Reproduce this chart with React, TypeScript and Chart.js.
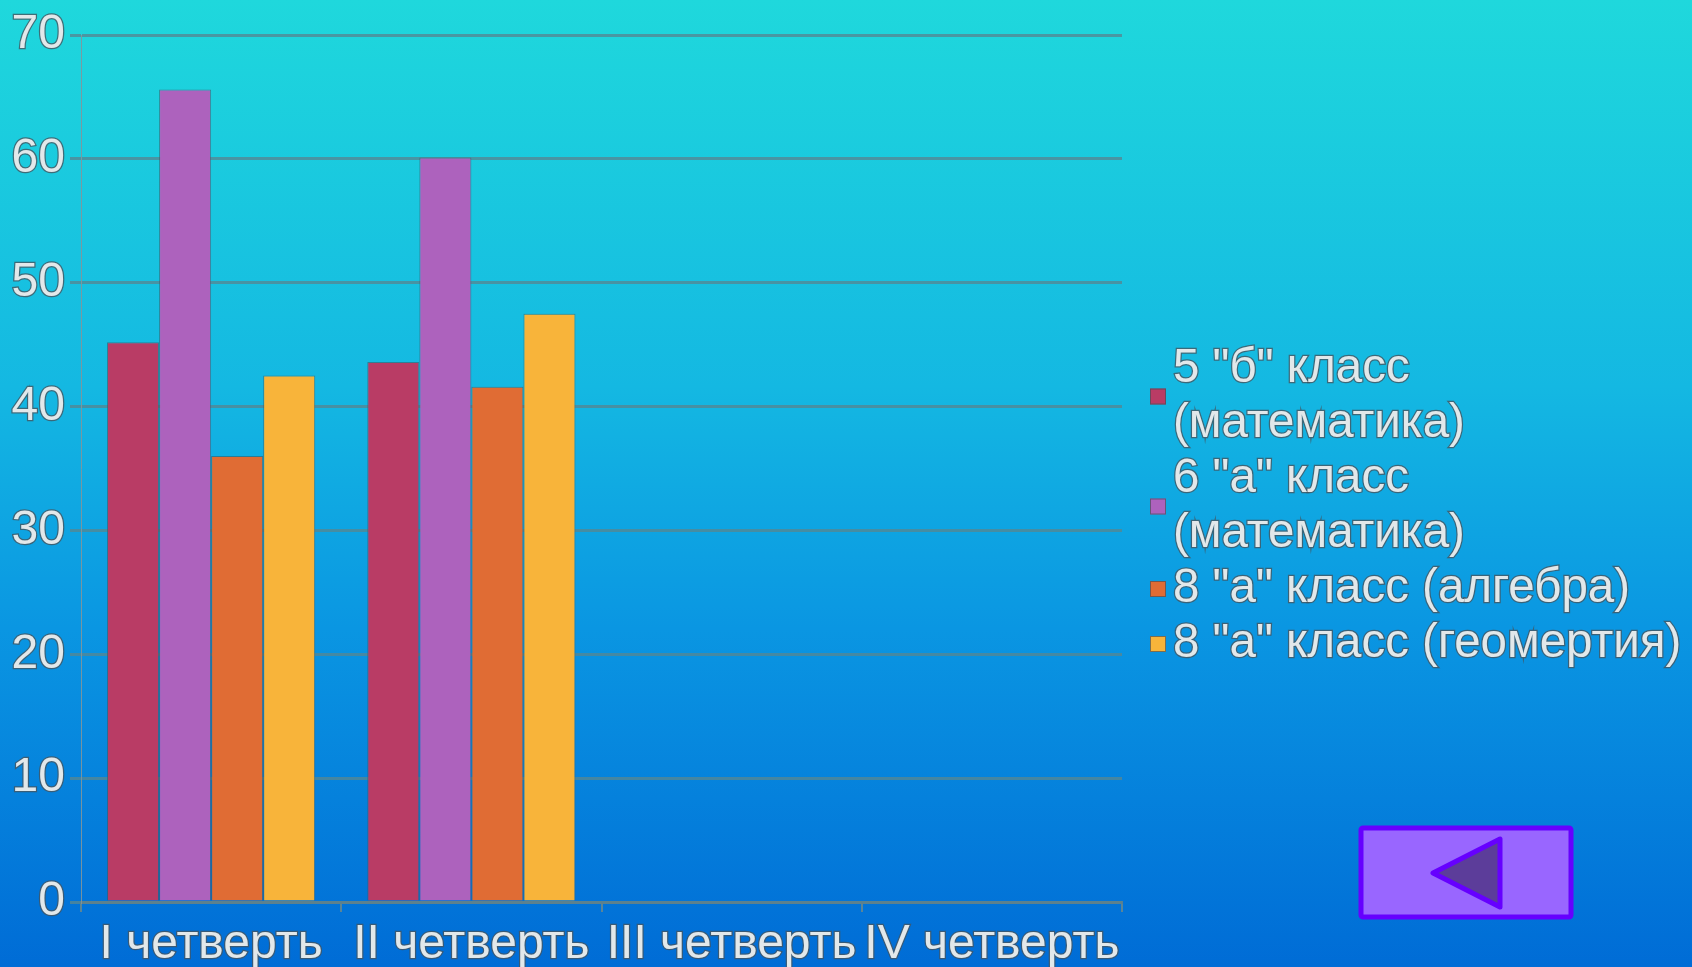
import React, { useEffect, useRef } from "react";
import { Chart, registerables } from "chart.js";

Chart.register(...registerables);

const CATEGORIES = ["I четверть", "II четверть", "III четверть", "IV четверть"];
const SERIES_NAMES = [
  '5 "б" класс (математика)',
  '6 "а" класс (математика)',
  '8 "а" класс (алгебра)',
  '8 "а" класс (геомертия)',
];
const LEGEND_LINES = [
  ['5 "б" класс', "(математика)"],
  ['6 "а" класс', "(математика)"],
  ['8 "а" класс (алгебра)'],
  ['8 "а" класс (геомертия)'],
];
const SERIES_5B_MATH = [45.2, 43.6, null, null];
const SERIES_6A_MATH = [65.6, 60.1, null, null];
const SERIES_8A_ALG = [36.0, 41.6, null, null];
const SERIES_8A_GEOM = [42.5, 47.5, null, null];
const SERIES_VALUES = [SERIES_5B_MATH, SERIES_6A_MATH, SERIES_8A_ALG, SERIES_8A_GEOM];
const SERIES_COLORS = ["#b93c65", "#ad62bd", "#e06c34", "#f8b43a"];
const Y_MIN = 0;
const Y_MAX = 70;
const Y_STEP = 10;

const FONT = '"Liberation Sans", Arial, sans-serif';
const TEXT_COLOR = "#e2e8ea";
const TEXT_STROKE = "rgba(70,85,95,0.8)";

const sideLegend = {
  id: "sideLegend",
  afterDraw(chart: any) {
    const ctx = chart.ctx as CanvasRenderingContext2D;
    const area = chart.chartArea;
    const markerX = area.right + 28;
    const textX = area.right + 51;
    const lh = 55;
    let y = area.top + 334;
    ctx.save();
    ctx.font = `47.5px ${FONT}`;
    ctx.textBaseline = "middle";
    ctx.textAlign = "left";
    LEGEND_LINES.forEach((lines, i) => {
      const centerY = y + ((lines.length - 1) * lh) / 2;
      ctx.fillStyle = SERIES_COLORS[i];
      ctx.fillRect(markerX, centerY - 8, 16, 16);
      ctx.strokeStyle = "rgba(70,80,90,0.7)";
      ctx.lineWidth = 1;
      ctx.strokeRect(markerX + 0.5, centerY - 7.5, 15, 15);
      lines.forEach((line, j) => {
        const ly = y + j * lh;
        ctx.lineWidth = 2.5;
        ctx.strokeStyle = TEXT_STROKE;
        ctx.strokeText(line, textX, ly);
        ctx.fillStyle = TEXT_COLOR;
        ctx.fillText(line, textX, ly);
      });
      y += lines.length * lh;
    });
    ctx.restore();
  },
};

export default function App() {
  const canvasRef = useRef<HTMLCanvasElement | null>(null);

  useEffect(() => {
    if (!canvasRef.current) return;
    const chart = new Chart(canvasRef.current, {
      type: "bar",
      data: {
        labels: CATEGORIES,
        datasets: SERIES_VALUES.map((vals, i) => ({
          label: SERIES_NAMES[i],
          data: vals,
          backgroundColor: SERIES_COLORS[i],
          borderColor: "rgba(60,90,100,0.6)",
          borderWidth: 1,
          categoryPercentage: 0.8,
          barPercentage: 1.0,
        })),
      },
      options: {
        animation: false,
        responsive: true,
        maintainAspectRatio: false,
        layout: { padding: { top: 35, right: 570, left: 0, bottom: 0 } },
        plugins: {
          legend: { display: false },
          tooltip: { enabled: false },
        },
        scales: {
          x: {
            grid: {
              display: true,
              drawOnChartArea: false,
              drawTicks: true,
              tickLength: 10,
              color: "rgba(100,135,145,0.9)",
              lineWidth: 2,
              offset: true,
            },
            border: { display: true, color: "rgba(95,130,140,0.9)", width: 3 },
            ticks: {
              color: TEXT_COLOR,
              font: { family: FONT, size: 48 },
              padding: 4,
              maxRotation: 0,
              minRotation: 0,
              autoSkip: false,
              textStrokeColor: TEXT_STROKE,
              textStrokeWidth: 2.5,
            } as any,
            afterFit: (scale: any) => {
              scale.height = 65;
            },
          },
          y: {
            min: Y_MIN,
            max: Y_MAX,
            ticks: {
              stepSize: Y_STEP,
              color: TEXT_COLOR,
              font: { family: FONT, size: 48 },
              padding: 5,
              textStrokeColor: TEXT_STROKE,
              textStrokeWidth: 2.5,
            } as any,
            grid: {
              color: "rgba(85,135,148,0.8)",
              lineWidth: 3,
              tickLength: 11,
            },
            border: { display: true, color: "rgba(130,150,155,0.9)", width: 1 },
            afterFit: (scale: any) => {
              scale.width = 81;
            },
          },
        },
      },
      plugins: [sideLegend],
    });
    return () => chart.destroy();
  }, []);

  return (
    <div
      style={{
        position: "fixed",
        inset: 0,
        width: "100vw",
        height: "100vh",
        background:
          "linear-gradient(to bottom, #1fd8dc 0%, #14b8e2 40%, #0a96e2 65%, #006cd6 100%)",
        overflow: "hidden",
      }}
    >
      <div style={{ position: "absolute", left: 0, top: 0, width: 1692, height: 967 }}>
        <canvas ref={canvasRef} />
      </div>
      <svg
        width={1692}
        height={967}
        style={{ position: "absolute", left: 0, top: 0, pointerEvents: "none" }}
      >
        <rect x={1361} y={828} width={210} height={89} fill="#9966ff" stroke="#6600ff" strokeWidth={5} rx={2} />
        <polygon
          points="1433,873 1500,839 1500,907"
          fill="#5c3d9a"
          stroke="#6600ff"
          strokeWidth={5}
          strokeLinejoin="round"
        />
      </svg>
    </div>
  );
}
